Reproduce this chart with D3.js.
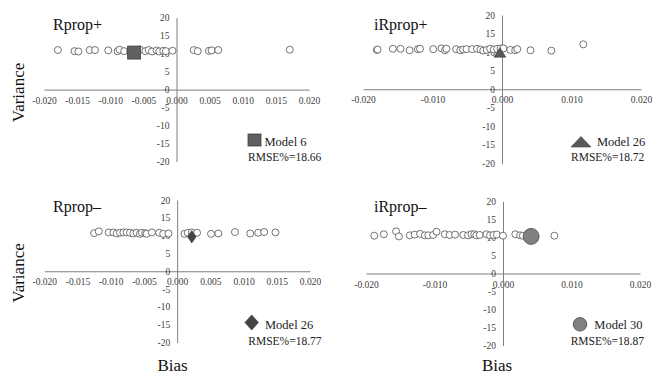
<!DOCTYPE html>
<html lang="en">
<head>
<meta charset="utf-8">
<title>Bias vs Variance</title>
<script src="https://d3js.org/d3.v7.min.js"></script>
<style>
  body { margin: 0; background: #fff; }
  svg text { font-family: "Liberation Serif", "DejaVu Serif", serif; }
  .axis .domain { stroke: #7f7f7f; stroke-width: 1; }
  .axis text { fill: #404040; font-size: 9.5px; }
</style>
</head>
<body>
<svg id="chart" width="653" height="374"></svg>
<script>
// ---- data ----
const rpropPlusBias = [-0.0179, -0.0154, -0.0148, -0.0131, -0.0123, -0.0103, -0.0089, -0.0086, -0.0079, -0.0070,
  -0.0060, -0.0055, -0.0047, -0.0042, -0.0037, -0.0030, -0.0026, -0.0020, -0.0016, -0.0006,
  0.0026, 0.0032, 0.0049, 0.0053, 0.0063, 0.0171];
const rpropPlusVar = [11.0, 10.7, 10.6, 11.0, 11.0, 10.9, 10.7, 11.1, 10.7, 10.6,
  11.0, 11.1, 10.7, 11.0, 10.6, 10.9, 10.6, 10.8, 10.7, 10.8,
  11.0, 10.7, 10.8, 10.9, 11.0, 11.1];

const irpropPlusBias = [-0.0180, -0.0179, -0.0157, -0.0146, -0.0133, -0.0121, -0.0118, -0.0099, -0.0087, -0.0082,
  -0.0080, -0.0066, -0.0060, -0.0056, -0.0051, -0.0043, -0.0036, -0.0031, -0.0027, -0.0022,
  -0.0017, -0.0012, -0.0007, -0.0002, 0.0002, 0.0012, 0.0019, 0.0022, 0.0041, 0.0071, 0.0117];
const irpropPlusVar = [10.6, 10.7, 10.9, 10.9, 10.5, 10.8, 10.9, 10.8, 11.0, 10.5,
  10.9, 10.8, 10.5, 10.7, 10.8, 10.8, 10.9, 10.7, 10.4, 10.6,
  10.9, 10.7, 10.9, 11.0, 11.0, 10.6, 10.5, 10.8, 10.5, 10.4, 12.1];

const rpropMinusBias = [-0.0125, -0.0118, -0.0103, -0.0096, -0.0091, -0.0086, -0.0081, -0.0076, -0.0071, -0.0066,
  -0.0061, -0.0056, -0.0053, -0.0048, -0.0046, -0.0038, -0.0027, -0.0021, -0.0013, 0.0011,
  0.0016, 0.0022, 0.0030, 0.0051, 0.0062, 0.0087, 0.0110, 0.0122, 0.0131, 0.0148];
const rpropMinusVar = [10.7, 11.2, 10.9, 10.9, 10.6, 10.8, 10.9, 10.9, 10.8, 10.6,
  10.8, 10.5, 10.8, 10.7, 10.5, 10.9, 10.8, 10.5, 10.6, 10.5,
  10.8, 10.9, 10.8, 10.5, 10.6, 11.0, 10.6, 10.8, 11.0, 10.9];

const irpropMinusBias = [-0.0188, -0.0174, -0.0156, -0.0152, -0.0136, -0.0129, -0.0121, -0.0114, -0.0109, -0.0102,
  -0.0097, -0.0085, -0.0078, -0.0070, -0.0058, -0.0051, -0.0046, -0.0042, -0.0039, -0.0034,
  -0.0024, -0.0019, -0.0014, -0.0009, 0.0000, 0.0018, 0.0025, 0.0029, 0.0039, 0.0075];
const irpropMinusVar = [10.5, 10.9, 11.7, 10.3, 10.6, 10.8, 11.0, 10.6, 10.6, 10.7,
  11.6, 10.9, 10.7, 10.8, 10.7, 10.6, 10.9, 10.9, 10.6, 10.7,
  10.9, 10.6, 10.7, 10.8, 10.5, 10.9, 10.6, 10.5, 10.8, 10.5];

const panelTitles = ["Rprop+", "iRprop+", "Rprop\u2013", "iRprop\u2013"];
const bestModels = ["Model 6", "Model 26", "Model 26", "Model 30"];
const bestRmse = ["RMSE%=18.66", "RMSE%=18.72", "RMSE%=18.77", "RMSE%=18.87"];
const bestBias = [-0.0064, -0.0003, 0.0022, 0.0041];
const bestVar = [10.3, 9.5, 9.7, 10.3];
const bestShape = ["square", "triangle", "diamond", "circle"];

const xTicksFine = [-0.020, -0.015, -0.010, -0.005, 0.000, 0.005, 0.010, 0.015, 0.020];
const xTicksCoarse = [-0.020, -0.010, 0.000, 0.010, 0.020];
const yTicks = [20, 15, 10, 5, 0, -5, -10, -15, -20];

// ---- layout of the four panels ----
const panels = [
  { bias: rpropPlusBias, vari: rpropPlusVar, xr: [44, 309], yr: [161.5, 17.7], ticks: xTicksFine,
    tx: 53, ty: 29.5, lx: 254.5, ly: 140.5, mx: 264.5, my: 145.5, rx: 248, ry: 161 },
  { bias: irpropPlusBias, vari: irpropPlusVar, xr: [363, 641], yr: [163.5, 15], ticks: xTicksCoarse,
    tx: 374, ty: 29.5, lx: 581, ly: 143.5, mx: 597, my: 145.5, rx: 571, ry: 161 },
  { bias: rpropMinusBias, vari: rpropMinusVar, xr: [44.3, 310], yr: [342.5, 200], ticks: xTicksFine,
    tx: 53, ty: 211.5, lx: 251.7, ly: 322.5, mx: 265, my: 329, rx: 248.3, ry: 345 },
  { bias: irpropMinusBias, vari: irpropMinusVar, xr: [366, 640], yr: [345.5, 201.5], ticks: xTicksCoarse,
    tx: 374, ty: 211.5, lx: 580, ly: 324.3, mx: 594.3, my: 329, rx: 570.7, ry: 345 }
];

const SERIF = '"Liberation Serif", "DejaVu Serif", serif';
const svg = d3.select("#chart");

function drawMarker(g, shape, x, y, big) {
  if (shape === "square") {
    const s = 13;
    g.append("rect").attr("x", x - s / 2).attr("y", y - s / 2).attr("width", s).attr("height", s - (big ? 1 : 0))
      .attr("fill", "#606060").attr("stroke", "#404040").attr("stroke-width", 0.8);
  } else if (shape === "triangle") {
    const w = big ? 20 : 12, h = big ? 10.5 : 9.5;
    g.append("path")
      .attr("d", `M${x},${y - h * 2 / 3}L${x + w / 2},${y + h / 3}L${x - w / 2},${y + h / 3}Z`)
      .attr("fill", "#595959").attr("stroke", "#404040").attr("stroke-width", 0.6);
  } else if (shape === "diamond") {
    const w = big ? 13.5 : 8.5, h = big ? 15 : 12.5;
    g.append("path")
      .attr("d", `M${x},${y - h / 2}L${x + w / 2},${y}L${x},${y + h / 2}L${x - w / 2},${y}Z`)
      .attr("fill", "#454545").attr("stroke", "#333").attr("stroke-width", 0.6);
  } else {
    g.append("circle").attr("cx", x).attr("cy", y).attr("r", big ? 6.8 : 8)
      .attr("fill", "#808080").attr("stroke", "#4a4a4a").attr("stroke-width", 0.8);
  }
}

panels.forEach((p, i) => {
  const x = d3.scaleLinear().domain([-0.02, 0.02]).range(p.xr);
  const y = d3.scaleLinear().domain([-20, 20]).range(p.yr);
  const g = svg.append("g");

  g.append("g").attr("class", "axis")
    .attr("transform", `translate(0,${y(0)})`)
    .call(d3.axisBottom(x).tickValues(p.ticks).tickSize(0).tickPadding(7.5)
      .tickFormat(d => d.toFixed(3)))
    .call(a => a.selectAll("text").attr("font-family", SERIF));

  g.append("g").attr("class", "axis")
    .attr("transform", `translate(${x(0)},0)`)
    .call(d3.axisLeft(y).tickValues(yTicks).tickSize(0).tickPadding(7)
      .tickFormat(d => String(d)))
    .call(a => a.selectAll("text").attr("font-family", SERIF));

  g.selectAll(".pt").data(d3.zip(p.bias, p.vari))
    .join("circle")
    .attr("class", "pt")
    .attr("cx", d => x(d[0]))
    .attr("cy", d => y(d[1]))
    .attr("r", 3.5)
    .attr("fill", "#fff")
    .attr("stroke", "#505050")
    .attr("stroke-width", 0.8);

  drawMarker(g, bestShape[i], x(bestBias[i]), y(bestVar[i]), false);

  g.append("text").text(panelTitles[i])
    .attr("x", p.tx).attr("y", p.ty)
    .attr("font-family", SERIF)
    .attr("font-size", 16).attr("fill", "#111");

  drawMarker(g, bestShape[i], p.lx, p.ly, true);
  g.append("text").text(bestModels[i])
    .attr("x", p.mx).attr("y", p.my)
    .attr("font-family", SERIF)
    .attr("font-size", 12.5).attr("fill", "#222");
  g.append("text").text(bestRmse[i])
    .attr("x", p.rx).attr("y", p.ry)
    .attr("font-family", SERIF)
    .attr("font-size", 11.5).attr("fill", "#222");
});

// axis titles
[92.5, 273].forEach(cy => {
  svg.append("text").text("Variance")
    .attr("transform", `translate(23.5,${cy}) rotate(-90)`)
    .attr("text-anchor", "middle")
    .attr("font-family", SERIF)
    .attr("font-size", 17).attr("fill", "#111");
});
[172.5, 497].forEach(cx => {
  svg.append("text").text("Bias")
    .attr("x", cx).attr("y", 370.5)
    .attr("text-anchor", "middle")
    .attr("font-family", SERIF)
    .attr("font-size", 17).attr("fill", "#111");
});
</script>
</body>
</html>
